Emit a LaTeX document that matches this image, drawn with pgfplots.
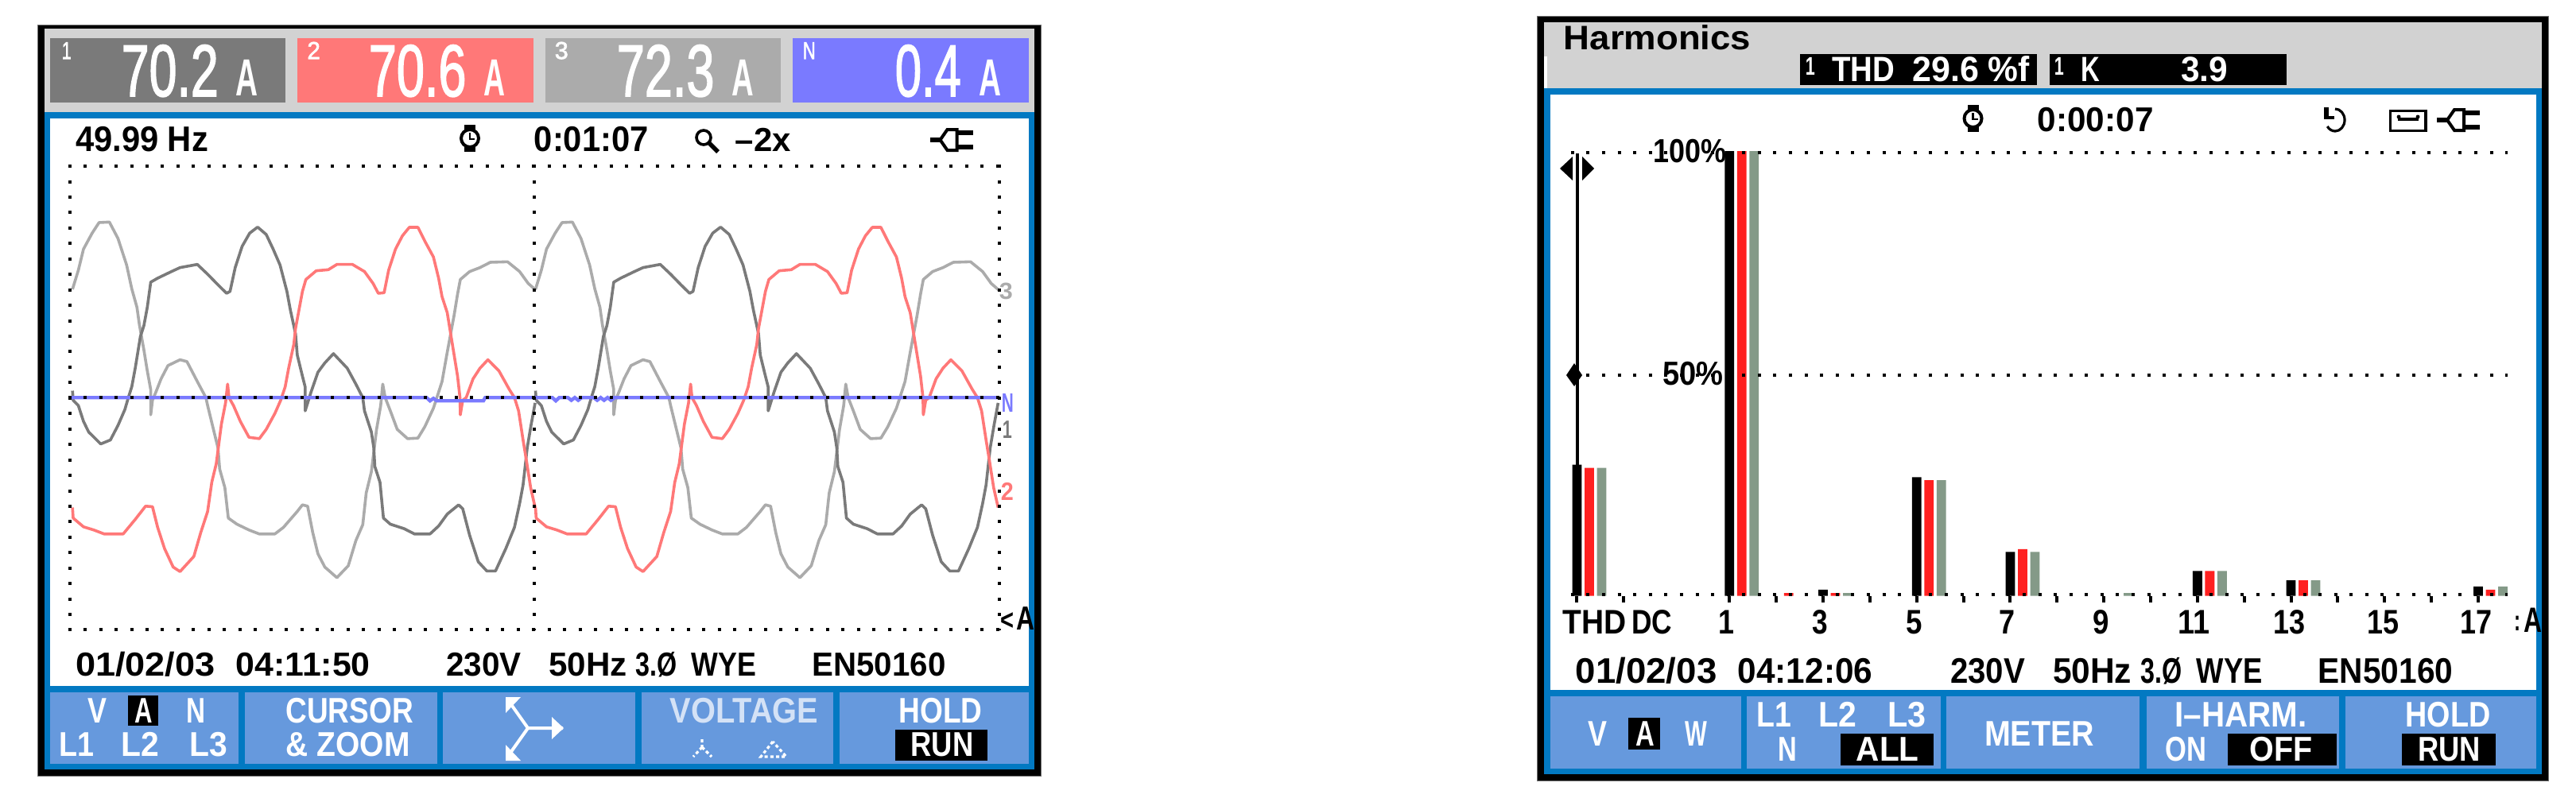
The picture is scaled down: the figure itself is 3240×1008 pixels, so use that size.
\documentclass[border=0pt]{standalone}
\usepackage{fontspec}
\usepackage{graphicx}
\usepackage{pgfplots}
\usepackage{pgfplotstable}
\pgfplotsset{compat=1.18}
\setmainfont{Liberation Sans}
\newfontfamily\lcd{Liberation Sans}
\newfontfamily\lcdm[FakeBold=2]{Liberation Sans}
\newdimen\px \px=0.25pt
\definecolor{frameblue}{HTML}{0279C2}
\definecolor{btn}{HTML}{6699DD}
\definecolor{strip}{HTML}{D2D2D2}
\definecolor{cone}{HTML}{7A7A7A}
\definecolor{ctwo}{HTML}{FF7878}
\definecolor{cthree}{HTML}{ABABAB}
\definecolor{cn}{HTML}{7A7AFF}
\definecolor{barred}{HTML}{FF2020}
\definecolor{bargrey}{HTML}{849A88}
% box-fitted text: #1 x-left, #2 y-bottom, #3 width, #4 height, #5 colour, #6 text
\newcommand\FTbox[3]{\resizebox{#1\px}{#2\px}{\raisebox{0pt}[7.16pt][0pt]{\fontsize{10pt}{10pt}\lcd\bfseries #3}}}
\newcommand\FT[6]{\node[anchor=south west,inner sep=0pt,text=#5] at (#1,#2) {\FTbox{#3}{#4}{#6}};}
\newcommand\FB[5]{\node[anchor=south west,inner sep=0pt,text=white] at (#1,#2) {\resizebox{#3\px}{#4\px}{\raisebox{0pt}[7.16pt][0pt]{\fontsize{10pt}{10pt}\lcdm #5}}};}
\newcommand\TLT[4]{\makebox[0pt]{\hspace{#3\px}\FTbox{#1}{#2}{#4}}}
% icons
\newcommand\watch[3]{\begin{scope}[shift={(#1,#2)}]
 \draw[black,line width=1pt,fill=white] (0,0) circle (#3);
 \fill[black] (-7,-#3-6) rectangle (7,-#3+1); \fill[black] (-7,#3-1) rectangle (7,#3+6);
 \draw[black,line width=.7pt] (0,-7) -- (0,1) -- (6,1);\end{scope}}
\newcommand\plug[2]{\begin{scope}[shift={(#1,#2)}]
 \draw[black,line width=1.5pt] (0,0) -- (15,0);
 \draw[black,line width=1pt,line join=miter] (34,-13) -- (22,-13) -- (13,0) -- (22,13) -- (34,13) -- cycle;
 \draw[black,line width=1.5pt] (34,-9) -- (54,-9) (34,9) -- (54,9);\end{scope}}
\pgfplotstableread{
x v
118 26
120 -10
135 -30
150 -90
165 -130
200 -175
228 -160
250 -105
270 -45
280 0
290 41
300 111
315 231
325 271
335 341
345 436
365 451
405 476
430 491
480 503
510 466
540 426
565 394
575 401
590 491
610 571
632 621
655 644
680 616
700 561
720 501
740 401
750 331
765 241
770 161
785 81
793 40
793 -50
805 0
810 21
830 96
850 131
875 166
915 111
940 51
960 0
965 -50
985 -130
992 -190
995 -260
1010 -320
1020 -455
1040 -478
1080 -495
1110 -515
1155 -515
1180 -485
1205 -440
1238 -405
1250 -420
1270 -520
1295 -620
1320 -655
1345 -655
1375 -570
1400 -490
1415 -400
1425 -330
1437 -190
1448 -105
1460 -20
}\lone
\pgfplotstableread{
x v
118 -415
120 -455
150 -488
180 -500
210 -515
265 -515
300 -460
330 -410
350 -412
365 -490
385 -570
410 -640
430 -657
470 -600
490 -510
510 -430
522 -320
535 -250
542 -180
550 -100
562 -20
568 51
572 0
585 -30
605 -90
630 -150
660 -155
680 -120
705 -60
722 -10
735 41
745 111
760 201
765 261
775 331
785 401
795 446
825 479
860 483
885 503
930 503
965 476
990 431
1005 394
1022 396
1035 481
1055 561
1075 611
1095 643
1120 643
1140 591
1165 531
1180 451
1190 381
1205 321
1215 241
1225 161
1235 81
1242 0
1243 -65
1250 -10
1260 0
1280 71
1300 111
1323 143
1355 101
1385 31
1400 0
1412 -50
1425 -160
1435 -240
1447 -340
1460 -415
}\ltwo
\pgfplotstableread{
x v
118 409
135 481
150 561
175 621
195 661
225 663
250 601
275 501
290 411
305 341
312 276
325 181
335 101
345 30
345 -65
350 -10
360 21
375 71
395 121
430 143
450 136
480 61
505 0
510 -30
525 -110
540 -190
545 -270
560 -340
570 -455
595 -478
630 -500
660 -515
705 -515
730 -490
770 -430
785 -405
800 -410
815 -510
830 -590
850 -640
885 -680
918 -635
940 -540
960 -480
970 -360
985 -280
1000 -120
1012 -30
1018 51
1025 0
1040 -50
1060 -120
1090 -155
1120 -153
1140 -110
1165 -40
1175 0
1190 61
1205 171
1225 311
1235 391
1243 446
1270 476
1300 491
1330 511
1380 513
1415 476
1440 431
1462 406
}\lthree
\pgfplotstableread{
x v
110 0
1145 0
1155 -12
1165 -3
1175 -12
1310 -12
1315 0
1510 0
1520 -12
1530 0
1555 0
1565 -10
1575 0
1585 -10
1595 0
1630 0
1640 -10
1650 0
1660 -10
1670 0
1680 -10
1690 0
2806 0
}\lneutral
\pgfplotstableread{
h thd
-2.26 29.5
1 100
3 1.4
5 26.7
7 9.9
11 5.6
13 3.5
17 2.1
}\barsa
\pgfplotstableread{
h thd
-2.26 28.8
1 100
2 0.65
3 0.65
5 26
7 10.5
11 5.6
13 3.5
17 1.4
}\barsb
\pgfplotstableread{
h thd
-2.26 28.8
1 100
3 0.65
5 26
7 9.9
9 0.65
11 5.6
13 3.5
17 2.1
}\barsc
\tikzset{ldots/.style={black,line width=1pt,dash pattern=on 1pt off 3.8625pt},
 rdots/.style={black,line width=1pt,dash pattern=on 1pt off 3.8975pt}}
\begin{document}
\begin{tikzpicture}[x=0.25pt,y=-0.25pt]
\path[use as bounding box] (0,0) rectangle (3240,1008);
\fill[white] (0,0) rectangle (3240,1008);
%%% ---------- LEFT PANEL frame ---------
\fill[black!55] (46.5,31) rectangle (1310,977);
\fill[black] (47.5,32) rectangle (1309,976);
\fill[strip] (55.6,36) rectangle (1301,141);
\fill[frameblue] (55.6,141) rectangle (1301,968);
\fill[white] (62.5,149) rectangle (1293.6,863);
\fill[cone] (62.5,48) rectangle (359,129);
\fill[ctwo] (374,48) rectangle (670.5,129);
\fill[cthree] (686,48) rectangle (982,129);
\fill[cn] (997.4,48) rectangle (1293.6,129);
\foreach \a/\b in {62.5/300,308/549.5,557/799,806.6/1048,1055.5/1293.6}{\fill[btn] (\a,871) rectangle (\b,960.7);}
%%% ---------- RIGHT PANEL frame ---------
\fill[black!55] (1933,19.5) rectangle (3206,983);
\fill[black] (1934,20.5) rectangle (3205,982);
\fill[strip] (1942,28) rectangle (3197,111);
\fill[white] (1942,71) rectangle (1946,111);
\fill[frameblue] (1942,111) rectangle (3197,974);
\fill[white] (1949.6,119) rectangle (3189.5,868);
\foreach \a/\b in {1949.6/2189.6,2197/2440.6,2448.4/2691.4,2699.6/2942.4,2950.2/3189.5}{\fill[btn] (\a,876) rectangle (\b,966.7);}
\fill[black] (2263.9,67.7) rectangle (2561.8,107.3);
\fill[black] (2578,67.7) rectangle (2875.5,107.3);
%%% ---------- WAVEFORM AXIS ---------
\begin{axis}[name=wave,at={(21.925pt,-197.925pt)},anchor=south west,scale only axis,width=292.25pt,height=145.675pt,
 xmin=110,xmax=2806,ymin=-875,ymax=874,hide axis,clip=false]
 \addplot[cthree,line width=0.9pt,line join=round] table[x=x,y=v] {\lthree};
 \addplot[cthree,line width=0.9pt,line join=round] table[x expr=\thisrow{x}+1343,y=v] {\lthree};
 \addplot[cone,line width=0.9pt,line join=round] table[x=x,y=v] {\lone};
 \addplot[cone,line width=0.9pt,line join=round] table[x expr=\thisrow{x}+1343,y=v] {\lone};
 \addplot[ctwo,line width=0.9pt,line join=round] table[x=x,y=v] {\ltwo};
 \addplot[ctwo,line width=0.9pt,line join=round] table[x expr=\thisrow{x}+1343,y=v] {\ltwo};
 \addplot[cn,line width=1.1pt] table[x=x,y=v] {\lneutral};
 \draw[ldots] (axis cs:105.5,874) -- (axis cs:2812,874);
 \draw[ldots] (axis cs:105.5,0) -- (axis cs:2812,0);
 \draw[ldots] (axis cs:105.5,-875) -- (axis cs:2812,-875);
 \draw[ldots] (axis cs:110,880) -- (axis cs:110,-880);
 \draw[ldots] (axis cs:1458,880) -- (axis cs:1458,-880);
 \draw[ldots] (axis cs:2806,880) -- (axis cs:2806,-880);
\end{axis}
%%% ---------- HARMONICS AXIS ---------
\begin{axis}[name=harm,at={(493.925pt,-187.425pt)},anchor=south west,scale only axis,width=294.575pt,height=139.925pt,
 xmin=-2.391,xmax=17.63,ymin=0,ymax=100,
 axis x line*=bottom,axis y line=none,x axis line style={draw=none},
 xtick={-2.26,-1.26,1,2,...,17},
 xticklabels={{\TLT{80}{30.7}{44}{THD}},{\TLT{51}{30.7}{71}{DC}},{\TLT{20}{30.7}{-7}{1}},{},{\TLT{19.6}{30.7}{-7}{3}},{},{\TLT{20.4}{30.7}{-7}{5}},{},{\TLT{20}{30.7}{-7}{7}},{},{\TLT{20.4}{30.7}{-7}{9}},{},{\TLT{40}{30.7}{-8}{11}},{},{\TLT{40}{30.7}{-4}{13}},{},{\TLT{40}{30.7}{-4}{15}},{},{\TLT{40}{30.7}{-4}{17}}},
 xticklabel style={inner sep=0pt,anchor=north},
 x tick style={black,line width=1pt},tick align=outside,major tick length=2pt,
 xticklabel shift=2.1pt,
 ybar,clip=false]
 \addplot[draw=none,fill=black,bar width=2.95pt,bar shift=0pt] table[x=h,y=thd] {\barsa};
 \addplot[draw=none,fill=barred,bar width=2.95pt,bar shift=3.88pt] table[x=h,y=thd] {\barsb};
 \addplot[draw=none,fill=bargrey,bar width=2.95pt,bar shift=7.75pt] table[x=h,y=thd] {\barsc};
 \draw[rdots] (axis cs:-2.39,99.7) -- (axis cs:17.63,99.7);
 \draw[rdots] (axis cs:-2.39,49.7) -- (axis cs:17.63,49.7);
 \draw[rdots] (axis cs:-2.39,0.36) -- (axis cs:17.63,0.36);
\end{axis}
%%% ---------- LEFT texts ---------
\FB{77}{75}{12}{22}{1}
\FB{152}{121.7}{122}{66}{70.2}
\FT{296}{121.7}{28}{47}{white}{A}
\FB{385.6}{75}{16.5}{22}{2}
\FB{463}{121.7}{122.7}{66}{70.6}
\FT{608}{121.7}{27}{47}{white}{A}
\FB{697}{75}{17}{22}{3}
\FB{775}{121.7}{122.7}{66}{72.3}
\FT{919.3}{121.7}{27.7}{47}{white}{A}
\FB{1009}{75}{16}{22}{N}
\FB{1125}{121.7}{83}{66}{0.4}
\FT{1231}{121.7}{28}{47}{white}{A}
\FT{94.2}{191.7}{167}{32}{black}{49.99 Hz}
\watch{591}{174}{11}
\FT{671}{191.7}{144}{32}{black}{0:01:07}
\draw[black,line width=.9pt] (885,173) circle (9);
\draw[black,line width=1.4pt] (892,180) -- (903,191);
\FT{924}{191.7}{70}{30}{black}{–2x}
\plug{1169.5}{176}
\FT{94.2}{851.7}{175.6}{30}{black}{01/02/03}
\FT{296}{851.7}{169}{30}{black}{04:11:50}
\FT{560.4}{851.7}{94.5}{30}{black}{230V}
\FT{689.5}{851.7}{98.4}{30}{black}{50Hz}
\FT{798.8}{851.7}{52}{30}{black}{3.Ø}
\FT{869}{851.7}{81.5}{30}{black}{WYE}
\FT{1020.8}{851.7}{168}{30}{black}{EN50160}
\FT{109.4}{910}{24}{32}{white}{V}
\fill[black] (160.6,875) rectangle (199,913);
\FT{169}{910}{22.5}{32}{white}{A}
\FT{234}{910}{24}{32}{white}{N}
\FT{73.8}{952.7}{44}{31}{white}{L1}
\FT{152}{952.7}{47.7}{31}{white}{L2}
\FT{237.7}{952.7}{47.7}{31}{white}{L3}
\FT{358.7}{910}{160.4}{32}{white}{CURSOR}
\FT{358.7}{952.7}{156}{31}{white}{\& ZOOM}
% rotary symbol
\draw[white,line width=1pt] (664,916) -- (708,916) (664,916) -- (642,885) (664,916) -- (642,947);
\fill[white] (694,902) -- (709,916) -- (694,930) -- cycle;
\fill[white] (636,877) -- (655,877) -- (636,897) -- cycle;
\fill[white] (636,957) -- (655,957) -- (636,937) -- cycle;
\FT{842}{910}{186.5}{32}{white!72!btn}{VOLTAGE}
\draw[white,line width=.8pt,dash pattern=on 1pt off .8pt] (883,930) -- (883,940) (883,940) -- (872,952) (883,940) -- (895,952);
\draw[white,line width=.8pt,dash pattern=on 1pt off .8pt] (972,933) -- (957,952) -- (989,952) -- cycle;
\FT{1129.6}{910}{105}{32}{white}{HOLD}
\fill[black] (1126,918) rectangle (1242.4,956.7);
\FT{1144.8}{952.7}{79}{31}{white}{RUN}
\FT{1256}{377}{17}{21}{cthree}{3}
\FT{1259}{519}{15}{24}{cn}{N}
\FT{1260}{552.7}{12}{22.7}{cone}{1}
\FT{1258}{630.7}{16}{22.7}{ctwo}{2}
\FT{1258}{793}{17}{26}{black}{<}
\FT{1278}{793}{23}{30}{black}{A}
%%% ---------- RIGHT texts ---------
\FT{1966}{63.3}{235.5}{30.6}{black}{Harmonics}
\FT{2270}{95}{12}{23}{white}{1}
\FT{2303.5}{103.3}{79}{31.6}{white}{THD}
\FT{2404.7}{103.3}{83.7}{31.6}{white}{29.6}
\FT{2499.4}{103.3}{52}{31.6}{white}{\%f}
\FT{2583}{95}{12}{23}{white}{1}
\FT{2617}{103.3}{23.7}{31.6}{white}{K}
\FT{2742.4}{103.3}{59}{31.6}{white}{3.9}
\watch{2481.5}{149}{11}
\FT{2562}{166}{145.7}{31}{black}{0:00:07}
\draw[black,line width=.8pt] (2937,137) arc[start angle=-90,end angle=145,x radius=12,y radius=14];
\fill[black] (2923,135) rectangle (2929,150);
\fill[black] (2923,146) rectangle (2936,150);
\draw[black,line width=.9pt] (3006.5,139.5) rectangle (3051,164.5);
\draw[black,line width=.9pt] (3016,150) -- (3042,150);
\fill[black] (3017,147) circle (2.5) (3041,147) circle (2.5);
\plug{3065}{151}
\FT{2079}{205}{92}{30}{black}{100\%}
\FT{2090.4}{485}{76.3}{30}{black}{50\%}
% cursor
\draw[black,line width=1pt] (1983.5,193) -- (1983.5,640);
\fill[black] (1962,212) -- (1978,197) -- (1978,227) -- cycle;
\fill[black] (2005,212) -- (1990,197) -- (1990,227) -- cycle;
\fill[black] (1980,457) -- (1990,472) -- (1980,486) -- (1970,472) -- cycle;
\FT{3162}{794}{8}{26}{black}{:}
\FT{3174}{796.7}{23}{31.7}{black}{A}
\FT{1981}{860}{177.6}{32}{black}{01/02/03}
\FT{2185}{860}{169.4}{32}{black}{04:12:06}
\FT{2452.4}{860}{93.9}{32}{black}{230V}
\FT{2581.2}{860}{99.2}{32}{black}{50Hz}
\FT{2691.4}{860}{52}{32}{black}{3.Ø}
\FT{2762}{860}{82.9}{32}{black}{WYE}
\FT{2915}{860}{169.4}{32}{black}{EN50160}
\FT{1996.5}{939}{24}{32}{white}{V}
\fill[black] (2048.4,903) rectangle (2087.6,942.7);
\FT{2056.5}{939}{23.7}{32}{white}{A}
\FT{2118.6}{939}{27.8}{32}{white}{W}
\FT{2208.8}{915}{43.7}{32}{white}{L1}
\FT{2287}{915}{47.8}{32}{white}{L2}
\FT{2373.7}{915}{48.2}{32}{white}{L3}
\FT{2236}{958}{23.7}{31}{white}{N}
\fill[black] (2314.9,923.3) rectangle (2432.4,962.7);
\FT{2334}{958}{78.8}{31}{white}{ALL}
\FT{2495.3}{939}{138}{32}{white}{METER}
\FT{2734.7}{915}{166}{32}{white}{I–HARM.}
\FT{2722.4}{958}{51.8}{31}{white}{ON}
\fill[black] (2801.6,923.3) rectangle (2938.8,962.7);
\FT{2828.6}{958}{79}{31}{white}{OFF}
\FT{3024.5}{915}{107}{32}{white}{HOLD}
\fill[black] (3021.2,923.3) rectangle (3138.8,962.7);
\FT{3040.4}{958}{78.8}{31}{white}{RUN}
\end{tikzpicture}
\end{document}
